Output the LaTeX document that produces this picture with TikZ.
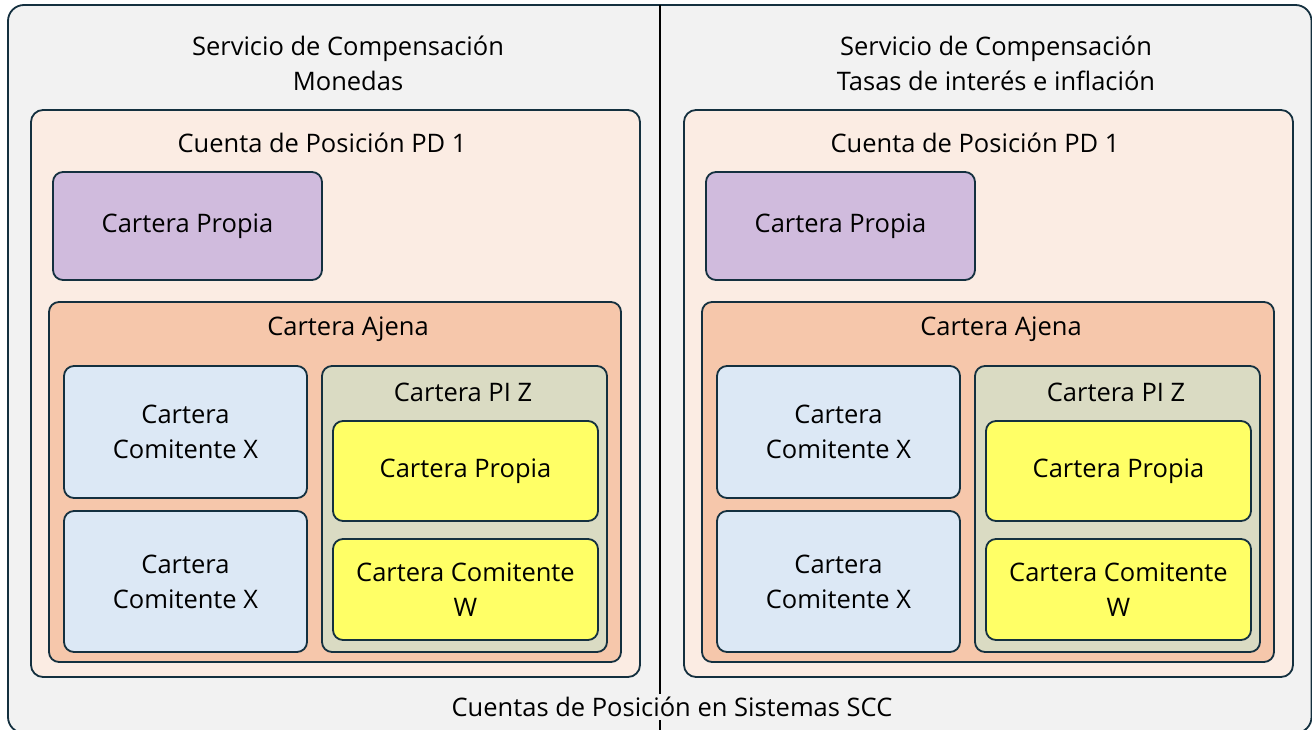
\documentclass[tikz,border=0pt]{standalone}
\usepackage{fontspec}
\setmainfont{Open Sans}
\usetikzlibrary{positioning}
\definecolor{borde}{HTML}{14303F}
\definecolor{fondo}{HTML}{F2F2F2}
\definecolor{cuenta}{HTML}{FBECE3}
\definecolor{propia}{HTML}{D0BBDD}
\definecolor{ajena}{HTML}{F6C7AB}
\definecolor{comitente}{HTML}{DCE8F5}
\definecolor{piz}{HTML}{DADBC3}
\definecolor{amarillo}{HTML}{FFFF66}
\tikzset{
	caja/.style={draw=borde, line width=1.8pt, rounded corners=10pt},
	hoja/.style={caja, align=center, inner sep=0pt},
	txt/.style={align=center, inner sep=1pt},
}

\begin{document}
\begin{tikzpicture}[x=1pt, y=-1pt, font=\fontsize{25.5}{35}\selectfont]
			\useasboundingbox (0,0) rectangle (1312,730);
			\draw[caja, fill=fondo, rounded corners=16pt] (8,5) rectangle (1311.5,733);
			\coordinate (arriba) at (660,5);
			\coordinate (abajo) at (660,730);
			\draw[line width=2pt] (arriba) -- (abajo);
			\node[txt, fill=fondo, inner ysep=3pt] (sistemas) at (672,707) {Cuentas de Posición en Sistemas SCC};
			\foreach [count=\i] \dx/\tx/\sub in {0/348/Monedas, 653/996/{Tasas de interés e inflación}}{
				\node[txt] (serv\i) at (\tx,63) {Servicio de Compensación\\ \sub};
				\draw[caja, fill=cuenta, rounded corners=12pt] (\dx+31,110) rectangle (\dx+640,677);
				\node[txt] (cuenta\i) at (\dx+322,143) {Cuenta de Posición PD 1};
				\node[hoja, fill=propia, minimum width=269pt, minimum height=108pt] (propia\i) at (\dx+187.5,226) {Cartera Propia};
				\draw[caja, fill=ajena] (\dx+49,302) rectangle (\dx+621,662);
				\node[txt] (ajena\i) at (\dx+348,329) {Cartera Ajena};
				\node[hoja, fill=comitente, minimum width=243pt, minimum height=132pt] (comx\i) at (\dx+185.5,432) {Cartera\\ Comitente X};
				\node[hoja, fill=comitente, minimum width=243pt, minimum height=141pt] (comxb\i) at (\dx+185.5,581.5) {Cartera\\ Comitente X};
				\draw[caja, fill=piz] (\dx+322,366) rectangle (\dx+607,652);
				\node[txt] (piz\i) at (\dx+463,392) {Cartera PI Z};
				\node[hoja, fill=amarillo, minimum width=265pt, minimum height=100pt] (pizp\i) at (\dx+465.5,471) {Cartera Propia};
				\node[hoja, fill=amarillo, minimum width=265pt, minimum height=101pt] (pizw\i) at (\dx+465.5,589.5) {Cartera Comitente\\ W};
			}
		\end{tikzpicture}
\end{document}
